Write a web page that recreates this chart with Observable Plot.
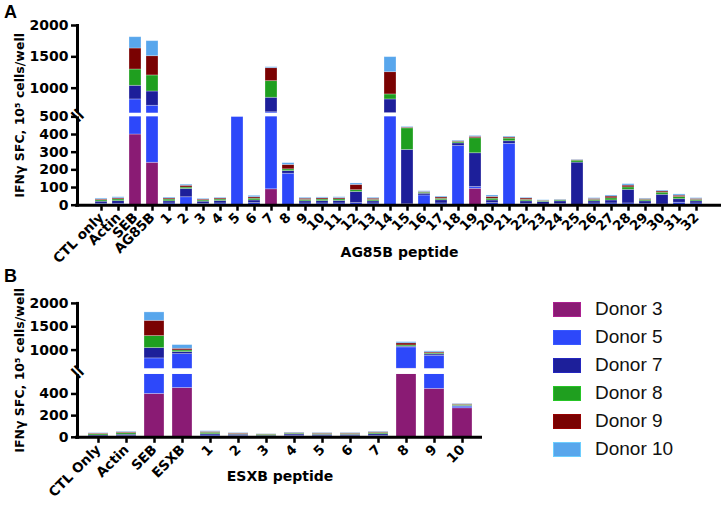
<!DOCTYPE html>
<html><head><meta charset="utf-8">
<script src="https://cdn.jsdelivr.net/npm/d3@7"></script>
<script src="https://cdn.jsdelivr.net/npm/@observablehq/plot@0.6"></script>
<style>
body{margin:0;background:#fff;width:725px;height:506px;position:relative;overflow:hidden;font-family:"Liberation Sans",Arial,sans-serif}
#a{position:absolute;left:0;top:0}
#b{position:absolute;left:0;top:265px}
.letter{position:absolute;font-weight:bold;font-size:18px;line-height:18px;font-family:"Liberation Sans",Arial,sans-serif}
#legend{position:absolute;left:553px;top:0}
.row{position:absolute;left:0;height:28px;display:flex;align-items:center;white-space:nowrap}
.sw{width:26px;height:13px;border:1.5px solid;margin-right:14px;box-sizing:content-box}
.lab{font-size:19px;color:#111}
</style></head><body>
<div id="a"></div><div id="b"></div>
<div class="letter" style="left:4px;top:3px">A</div>
<div class="letter" style="left:4px;top:267px">B</div>
<div id="legend"></div>
<script>
const donors = ["Donor 3","Donor 5","Donor 7","Donor 8","Donor 9","Donor 10"];
const colors = ["#8A1B74","#2D48FA","#1D1F9A","#1F9F1F","#7A0202","#58A6EC"];

// Panel A
const catsA = ["CTL only","Actin","SEB","AG85B","1","2","3","4","5","6","7","8","9","10","11","12","13","14","15","16","17","18","19","20","21","22","23","24","25","26","27","28","29","30","31","32"];
const d3A  = [3,2,400,240,2,0,2,2,0,2,90,2,2,2,2,2,2,0,0,0,2,0,93,2,0,2,0,2,0,2,2,0,2,0,2,2];
const d5A  = [5,6,420,479,8,45,6,8,500,10,525,176,8,8,8,10,8,600,5,55,8,335,10,10,347,6,4,4,2,8,8,10,6,4,12,8];
const d7A  = [12,15,218,228,12,47,12,14,0,15,232,15,12,13,14,63,12,220,308,10,18,15,191,15,15,14,14,16,239,12,17,77,14,55,20,12];
const d8A  = [8,10,260,256,10,8,7,8,0,10,265,10,8,9,9,10,8,80,122,6,8,8,85,10,15,8,6,6,11,8,12,14,8,12,12,8];
const d9A  = [5,6,335,307,6,10,5,6,0,8,207,25,7,7,7,30,7,355,4,4,8,4,8,10,6,8,2,2,3,6,10,10,5,7,8,6];
const d10A = [5,6,180,240,5,6,4,4,0,8,16,10,5,5,5,8,5,240,4,4,5,4,5,8,5,4,2,2,2,4,6,8,3,5,7,4];
const ticksA = [0,100,200,300,400,500,1000,1500,2000];

// Panel B
const catsB = ["CTL Only","Actin","SEB","ESXB","1","2","3","4","5","6","7","8","9","10"];
const d3B  = [2,2,400,455,2,2,0,2,2,2,2,600,447,268];
const d5B  = [5,8,422,459,14,10,4,10,8,8,10,458,431,15];
const d7B  = [10,14,221,43,12,12,10,14,13,13,16,17,30,6];
const d8B  = [12,14,257,36,14,6,10,8,8,8,12,25,21,10];
const d9B  = [6,8,327,35,8,6,3,6,6,6,8,45,22,6];
const d10B = [4,6,180,79,6,4,2,4,4,4,5,25,21,4];
const ticksB = [0,200,400,1000,1500,2000];

const yLabel = "IFNγ SFC, 10\u2075 cells/well";

// piecewise (broken) axis: lower segment [0, lowMax], gap, upper segment [upMin, 2000] compressed by k
function brokenScale(lowMax, upMin, gap, k) {
  return v => v <= lowMax ? v : v < upMin ? lowMax + (v - lowMax) / (upMin - lowMax) * gap : lowMax + gap + (v - upMin) * k;
}

function panel(o) {
  const T = o.T;
  const data = [];
  o.cats.forEach((c, i) => {
    let acc = 0;
    donors.forEach((d, j) => {
      const v = o.series[j][i];
      data.push({cat: c, donor: d, lo: acc, hi: acc + v});
      acc += v;
    });
  });
  const tickLabel = new Map(o.ticks.map(t => [T(t), String(t)]));
  return Plot.plot({
    width: o.width, height: o.height,
    marginLeft: 77, marginRight: 4, marginTop: o.marginTop, marginBottom: o.marginBottom,
    style: {fontFamily: "DejaVu Sans", fontWeight: "bold", fontSize: "13px", color: "black", background: "white"},
    x: {domain: o.cats, paddingInner: o.padding, paddingOuter: o.paddingOuter, axis: null},
    y: {type: "linear", domain: [0, T(2000)], axis: null},
    color: {domain: donors, range: colors},
    marks: [
      Plot.barY(data, {x: "cat", y1: d => T(d.lo), y2: d => T(d.hi), fill: "donor", stroke: "white", strokeOpacity: 0.35, strokeWidth: 0.8}),
      Plot.frame({anchor: "left", strokeWidth: 3}),
      Plot.rect([0], {y1: T(o.lowMax), y2: T(o.upMin), fill: "white", insetLeft: -6}),
      Plot.ruleY([0], {strokeWidth: 3, insetLeft: -2}),
      Plot.axisY({ticks: o.ticks.map(T), tickFormat: v => tickLabel.get(v), tickSize: 6, strokeWidth: 2.5, tickPadding: 3, fontSize: 14, fontWeight: "bold", label: null}),
      Plot.axisX({tickRotate: -45, tickSize: 6, strokeWidth: 2.5, tickPadding: 4, fontSize: 13.5, fontWeight: "bold", label: null}),
      Plot.text(["="], {frameAnchor: "left", y: T((o.lowMax + o.upMin) / 2), text: d => d, rotate: 45, fontSize: 20, fontWeight: "bold", textAnchor: "middle", dx: 0}),
      Plot.text([o.xLabel], {frameAnchor: "bottom", dy: o.xLabelDy, text: d => d, fontSize: 14, fontWeight: "bold", textAnchor: "middle"}),
      Plot.text([yLabel], {frameAnchor: "left", dx: -58, rotate: -90, text: d => d, fontSize: 12.5, fontWeight: "bold", textAnchor: "middle"})
    ]
  });
}

document.getElementById("a").append(panel({
  cats: catsA, series: [d3A, d5A, d7A, d8A, d9A, d10A],
  T: brokenScale(500, 600, 20.4, 0.3546), lowMax: 500, upMin: 600,
  width: 725, height: 265, marginTop: 25, marginBottom: 60.3,
  padding: 0.27, paddingOuter: 0.2, ticks: ticksA, xLabel: "AG85B peptide", xLabelDy: 52
}));
document.getElementById("b").append(panel({
  cats: catsB, series: [d3B, d5B, d7B, d8B, d9B, d10B],
  T: brokenScale(580, 600, 52.6, 0.431), lowMax: 580, upMin: 600,
  width: 486, height: 241, marginTop: 37.9, marginBottom: 69.2,
  padding: 0.3, paddingOuter: 0.26, ticks: ticksB, xLabel: "ESXB peptide", xLabelDy: 44
}));

const legend = document.getElementById("legend");
donors.forEach((d, i) => {
  const row = document.createElement("div");
  row.className = "row";
  row.style.top = (309.3 + 28 * i - 14) + "px";
  const sw = document.createElement("div");
  sw.className = "sw";
  sw.style.background = colors[i];
  sw.style.borderColor = d3.color(colors[i]).brighter(0.6).formatHex();
  const lab = document.createElement("span");
  lab.className = "lab";
  lab.textContent = d;
  row.append(sw, lab);
  legend.append(row);
});
</script>
</body></html>
